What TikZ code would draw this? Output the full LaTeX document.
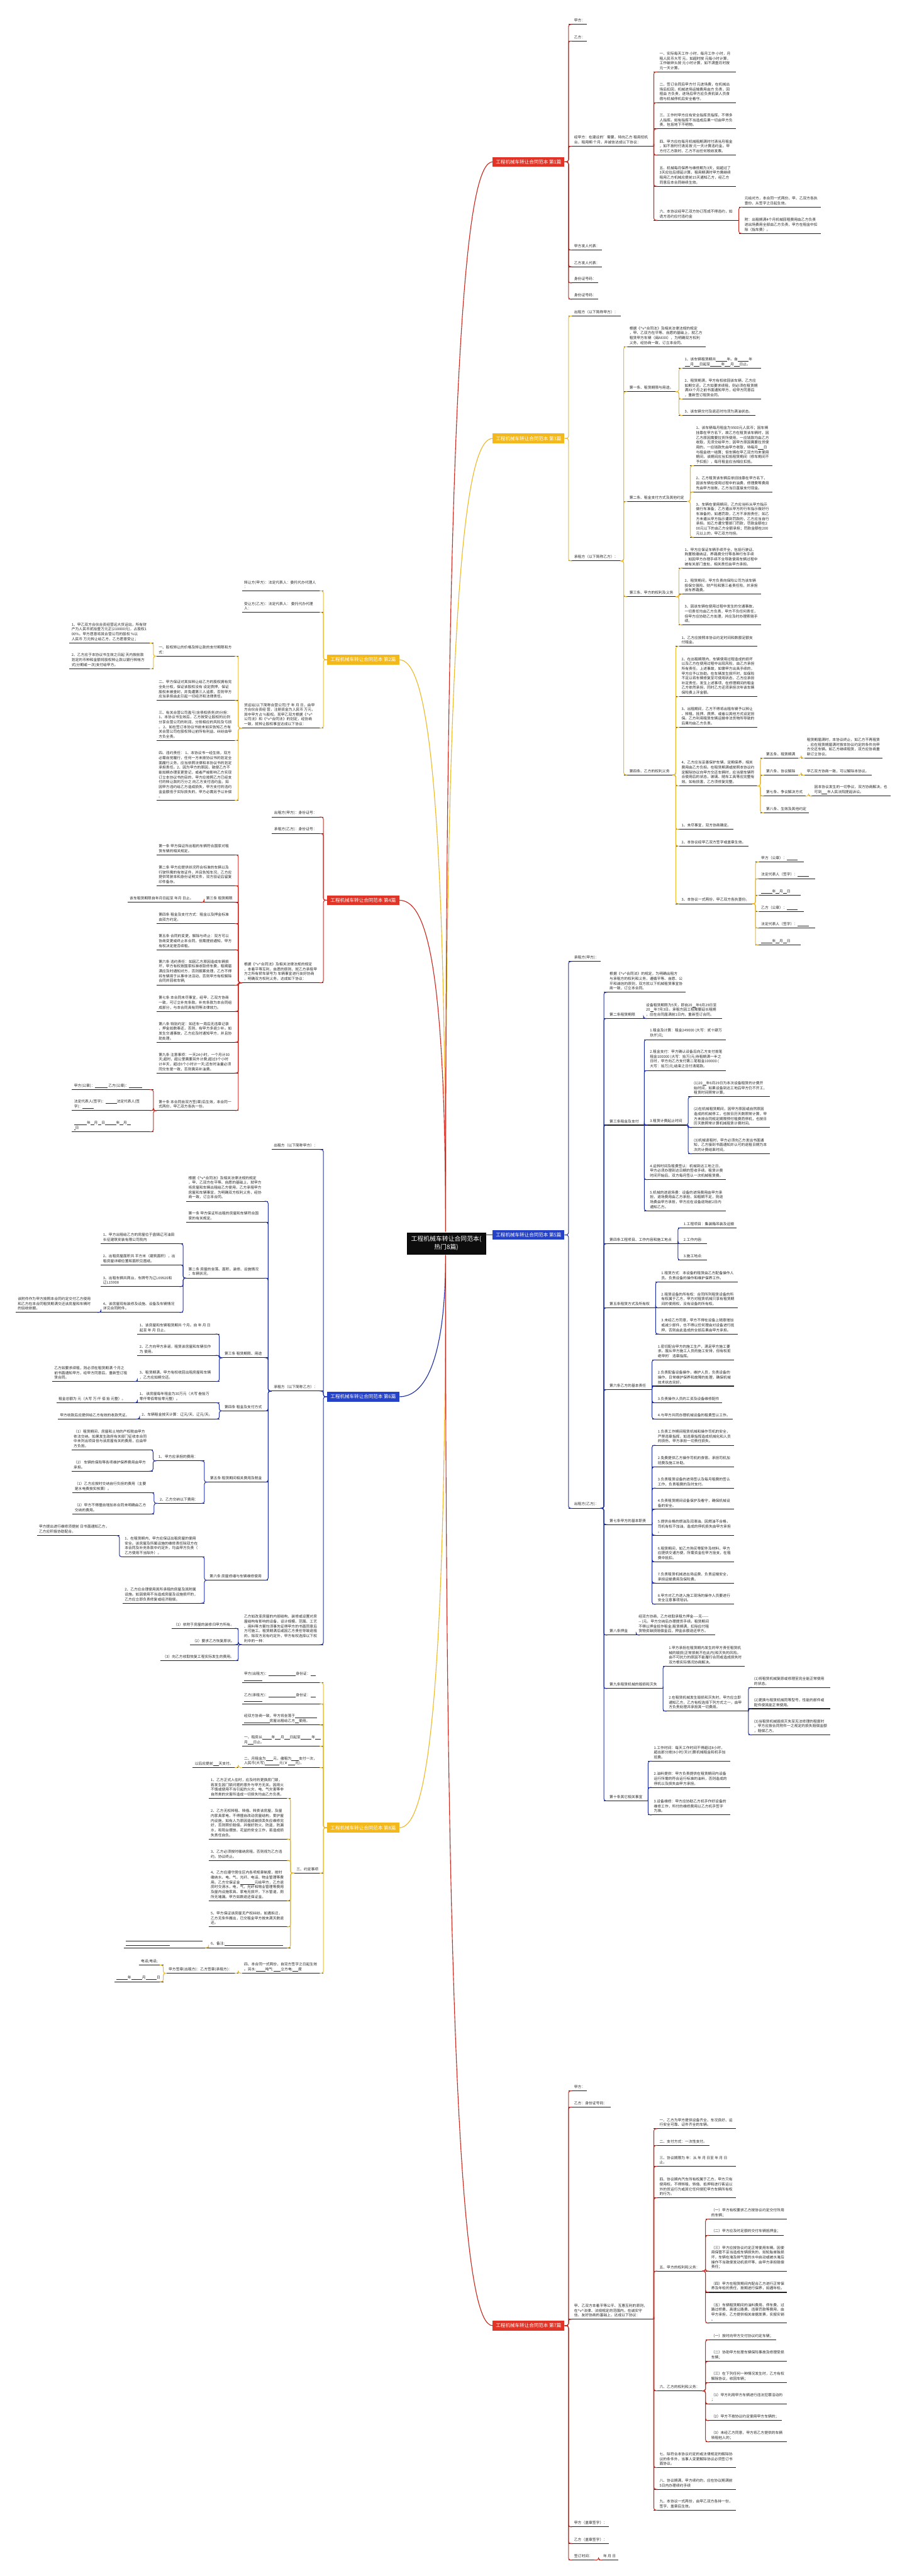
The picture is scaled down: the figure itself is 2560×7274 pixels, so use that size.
\documentclass[tikz,border=0pt]{standalone}
\usepackage{fontspec}
\setmainfont{Noto Sans CJK SC}
\definecolor{redF}{RGB}{226,52,38}
\definecolor{yelF}{RGB}{243,184,27}
\definecolor{bluF}{RGB}{38,66,198}
\definecolor{redL}{RGB}{200,40,30}
\definecolor{yelL}{RGB}{236,185,42}
\definecolor{bluL}{RGB}{30,48,165}
\newcommand\bk[1]{\rule[-1.5pt]{#1em}{0.5pt}}
\newcommand\vv{\textasciicircum v\textasciicircum}
\tikzset{
  tx/.style={anchor=south west, inner sep=0pt, align=left, font=\fontsize{10.3}{13.6}\selectfont, text=black!85},
  ul/.style={line width=1.8pt, draw=black!88},
  cr/.style={line width=1.8pt, draw=redL, rounded corners=6pt},
  cy/.style={line width=1.8pt, draw=yelL, rounded corners=6pt},
  cb/.style={line width=1.8pt, draw=bluL, rounded corners=6pt},
  lab/.style={inner xsep=9pt, inner ysep=7.5pt, text=white, font=\fontsize{13.4}{15}\selectfont},
  cen/.style={fill=black!95, draw=black, text=white, inner xsep=12pt, inner ysep=9pt, align=center, font=\fontsize{17.5}{23}\selectfont},
  mr/.style={line width=2pt, draw=redL},
  my/.style={line width=2pt, draw=yelL},
  mb/.style={line width=2pt, draw=bluL}
}
\newcommand\nodX[6]{\coordinate (#1-l) at (#2,#4);\coordinate (#1-r) at (#3,#4);\node[tx] (#1) at (#5,#4-6) {#6};\draw[ul] (#1-l) -- (#1-r);}
\newcommand\nodR[5]{\nodX{#1}{#2}{#3}{#4}{#2+16}{#5}}
\newcommand\nodL[5]{\nodX{#1}{#2}{#3}{#4}{#2+6}{#5}}
\newcommand\conR[3]{\draw[#1] (#2-r) -| (#3-l) -- ([xshift=10pt]#3-l);}
\newcommand\conL[3]{\draw[#1] (#2-l) -| (#3-r) -- ([xshift=-10pt]#3-r);}
\newcommand\labR[3]{\draw[#1] (#2.east) -| (#3-l) -- ([xshift=10pt]#3-l);}
\newcommand\labL[3]{\draw[#1] (#2.west) -| (#3-r) -- ([xshift=-10pt]#3-r);}
\begin{document}
\begin{tikzpicture}[x=1pt,y=-1pt]
\fill[white] (0,0) rectangle (2560,7274);
\path[use as bounding box] (0,0) rectangle (2560,7274);

% ---------- branch labels ----------
\node[lab,fill=redF,anchor=east] (L1) at (1594,457) {工程机械车转让合同范本 第1篇};
\node[lab,fill=yelF,anchor=east] (L2) at (1594,1238) {工程机械车转让合同范本 第3篇};
\node[lab,fill=bluF,anchor=east] (L3) at (1594,3487) {工程机械车转让合同范本 第5篇};
\node[lab,fill=redF,anchor=east] (L4) at (1594,6567) {工程机械车转让合同范本 第7篇};
\node[lab,fill=yelF,anchor=west] (L5) at (924,5161) {工程机械车转让合同范本 第8篇};
\node[lab,fill=bluF,anchor=west] (L6) at (924,3944) {工程机械车转让合同范本 第6篇};
\node[lab,fill=redF,anchor=west] (L7) at (924,2542) {工程机械车转让合同范本 第4篇};
\node[lab,fill=yelF,anchor=west] (L8) at (924,1863) {工程机械车转让合同范本 第2篇};

% ---------- centre ----------
\coordinate (T) at (1258,3478);
\coordinate (B) at (1258,3544);
\draw[my] (T) .. controls (1258,2138) and (1199,1863) .. (L8.east);
\draw[mr] (T) .. controls (1258,2700) and (1200,2542) .. (L7.east);
\draw[my] (T) .. controls (1258,1619) and (1318,1238) .. (L2.west);
\draw[mr] (T) .. controls (1258,971) and (1318,457) .. (L1.west);
\draw[mb] (B) .. controls (1258,3844) and (1199,3944) .. (L6.east);
\draw[my] (B) .. controls (1258,4886) and (1199,5161) .. (L5.east);
\draw[mr] (B) .. controls (1258,6053) and (1318,6567) .. (L4.west);
\node[cen] (C) at (1260,3511) {工程机械车转让合同范本(\\热门8篇)};
\draw[mb] (C.north east |- L3.west) -- (L3.west);

% ---------- 第1篇 (red, right top) ----------
\nodR{a1}{1605}{1656}{69}{甲方：}
\nodR{a2}{1605}{1656}{116}{乙方：}
\nodR{a3}{1605}{1846}{413}{经甲方：在建设的'需要，特向乙方 租用挖机\\台，租用期 个月，并诚信达成以下协议：}
\nodR{a31}{1846}{2077}{203}{一、实际每天工作 小时，每月工作 小时，月\\租人民币大写 元。如超时按 元每小时计算，\\工作破碎头按 元小时计算，如不满壹月时按\\元一天计算。}
\nodR{a32}{1846}{2077}{290}{二、签订合同后甲方付 元进场费，在机械出\\场后扣回，机械进场运输费用由方 负责，回\\程由 方负责，进场后甲方应负责机架人员食\\宿与机械停机后安全看守。}
\nodR{a33}{1846}{2077}{364}{三、工作时甲方应有安全指挥员指挥，不得多\\人指挥。如有指挥不当造成后果一切由甲方负\\责，包括地下不明物。}
\nodR{a34}{1846}{2077}{438}{四、甲方应在每月机械租期满时付清当月租金\\，如不按时付清另按 元一天计算违约金。甲\\方付乙方款时，乙方不出任何税收发票。}
\nodR{a35}{1846}{2077}{526}{五、机械每月保养与维修期为3天，如超过了\\3天应往后顺延计算，租用期满时甲方需继续\\租用乙方机械应提前15天通知乙方，经乙方\\同意后本合同继续生效。}
\nodR{a36}{1846}{2086}{622}{六、本协议经甲乙双方协订而成不得违约，如\\诡方违约应付违约金}
\nodR{a361}{2086}{2317}{585}{元给对方，本合同一式两份，甲、乙双方各执\\壹份，从签字之日起生效。}
\nodR{a362}{2086}{2317}{659}{附：出租期满4个月机械回程费用由乙方负责\\进出场费用全部由乙方负责，甲方在租金中扣\\除（指车费）。}
\nodR{a4}{1605}{1699}{706}{甲方发人代表：}
\nodR{a5}{1605}{1699}{753}{乙方发人代表：}
\nodR{a6}{1605}{1688}{799}{身份证号码：}
\nodR{a7}{1605}{1688}{845}{身份证号码：}
\foreach \c in {a1,a2,a3,a4,a5,a6,a7}{\labR{cr}{L1}{\c}}
\foreach \c in {a31,a32,a33,a34,a35,a36}{\conR{cr}{a3}{\c}}
\foreach \c in {a361,a362}{\conR{cr}{a36}{\c}}

% ---------- 第3篇 (yellow, right) ----------
\nodR{b1}{1605}{1752}{892}{出租方（以下简称甲方）：}
\nodR{b2}{1605}{1752}{1584}{承租方（以下简称乙方）：}
\nodR{b21}{1761}{1992}{979}{根据《\vv 合同法》及相关法律法规的规定\\，甲、乙双方在平等、自愿的基础上，就乙方\\租赁甲方车辆（闽AXXX），为明确双方权利\\义务，经协商一致，订立本合同。}
\nodR{b22}{1761}{1908}{1106}{第一条、租赁期限与用途。}
\nodR{b221}{1917}{2149}{1040}{1、该车辆租赁期共\bk{3}年。自\bk{3}年\\\bk{1.5}月\bk{1.5}日起至\bk{3}年\bk{1.5}月\bk{1.5}日止。}
\nodR{b222}{1917}{2149}{1127}{2、租赁期满，甲方有权收回该车辆，乙方应\\如期交还。乙方如要求续租，则必须在租赁期\\满XX个月之前书面通知甲方，经甲方同意后\\，重新签订租赁合同。}
\nodR{b223}{1917}{2133}{1173}{3、该车辆交付及退还时均须为满油状态。}
\nodR{b23}{1761}{1940}{1416}{第二条、租金支付方式及其他约定}
\nodR{b231}{1949}{2180}{1315}{1、该车辆每月租金为9500元人民币；因车辆\\挂靠在甲方名下，故乙方在租赁该车辆时，因\\乙方原因需要拉货所使用，一应钱款均由乙方\\收取，无须交给甲方；因甲方原因需要拉货使\\用的，一应钱款先由甲方收取，待每月\bk{1.5}日\\与租金统一结算；但车辆在甲乙双方均未使用\\期间，该期间应当扣抵租赁期间（修车期间不\\予扣抵），每月租金应当相应扣抵。}
\nodR{b232}{1949}{2180}{1389}{2、乙方租赁该车辆后依旧挂靠在甲方名下，\\因该车辆在使用过程中的油费、修理费等费用\\先由甲方挂账，乙方当日直接支付现金。}
\nodR{b233}{1949}{2180}{1517}{3、车辆在使用期间，乙方应当听从甲方指示\\做行车准备；乙方遵从甲方的行车指示做好行\\车准备的，如遇罚款，乙方不承担责任；如乙\\方未遵从甲方指示遭到罚款的，乙方应当自行\\承担。如乙方遭交警部门罚款，罚款金额在2\\00元以下的由乙方全额承担；罚款金额在200\\元以上的，甲乙双方均担。}
\nodR{b24}{1761}{1908}{1685}{第三条、甲方的权利及义务}
\nodR{b241}{1917}{2149}{1604}{1、甲方应保证车辆手续齐全，包括行驶证、\\购置税缴纳证、养路费交付等各种行车手续\\；如因甲方办理手续不全导致使用车辆过程中\\被有关部门查处，相关责任由甲方承担。}
\nodR{b242}{1917}{2149}{1678}{2、租赁期间，甲方负责向保险公司为该车辆\\投保交强险、财产险和第三者责任险，并承担\\该车养路费。}
\nodR{b243}{1917}{2149}{1765}{3、因该车辆在使用过程中发生的交通事故，\\一切责任均由乙方负责，甲方不负任何责任，\\但甲方应协助乙方处理，并应及时办理索赔手\\续。}
\nodR{b25}{1761}{1899}{2188}{第四条、乙方的权利义务}
\nodR{b251}{1908}{2138}{1825}{1、乙方应按照本协议约定时间和数额足额支\\付租金。}
\nodR{b252}{1908}{2138}{1967}{2、在出租期限内，车辆使用过程造成的损坏\\以及乙方在使用过程中出现风险，由乙方承担\\所有责任。上述事故，如需甲方出具手续的，\\甲方应予以协助。在车辆发生损坏时，如保险\\不足以将车辆修复至可使用状态，乙方应承担\\补足责任。发生上述事项，在修理期间的租金\\乙方依然承担，同时乙方还须承担次年该车辆\\保险费上浮金额。}
\nodR{b253}{1908}{2138}{2054}{3、出租期间，乙方不得将出租车辆予以转让\\、转租、抵押、质押、或者以其他方式设定担\\保。乙方利用租赁车辆运输非法货物所导致的\\后果均由乙方负责。}
\nodR{b254}{1908}{2138}{2219}{4、乙方应当妥善保护车辆，定期保养，相关\\费用由乙方负担。在租赁期满或按照本协议约\\定解除协议向甲方交还车辆时，应当使车辆符\\合使用后的状态，玻璃、随车工具等应完整有\\效。如有损害，乙方须修复完整。}
\nodR{b2541}{2147}{2254}{2141}{第五条、租赁期满}
\nodR{b25411}{2262}{2492}{2141}{租赁期届满时，本协议终止，如乙方不再租赁\\，应在租赁期届满时按本协议约定的条件向甲\\方交还车辆。如乙方继续租赁，双方应协商重\\新订立协议。}
\nodR{b2542}{2147}{2254}{2189}{第六条、协议解除}
\nodR{b25421}{2262}{2461}{2189}{甲乙双方协商一致，可以解除本协议。}
\nodR{b2543}{2147}{2274}{2248}{第七条、争议解决方式}
\nodR{b25431}{2283}{2514}{2248}{因本协议发生的一切争议，双方协商解决，也\\可到\bk{1.5}市人民法院提起诉讼。}
\nodR{b2544}{2147}{2284}{2295}{第八条、生效及其他约定}
\nodR{b255}{1908}{2071}{2342}{1、未尽事宜，双方协商确定。}
\nodR{b256}{1908}{2113}{2389}{2、本协议经甲乙双方签字或盖章生效。}
\nodR{b257}{1908}{2124}{2552}{3、本协议一式两份，甲乙双方各执壹份。}
\nodR{b2571}{2133}{2269}{2434}{甲方（公章）：\bk{3}}
\nodR{b2572}{2133}{2302}{2481}{法定代表人（签字）：\bk{3}}
\nodR{b2573}{2133}{2261}{2528}{\bk{3}年\bk{1}月\bk{1}日}
\nodR{b2574}{2133}{2269}{2574}{乙方（公章）：\bk{3}}
\nodR{b2575}{2133}{2302}{2621}{法定代表人（签字）：\bk{3}}
\nodR{b2576}{2133}{2261}{2669}{\bk{3}年\bk{1}月\bk{1}日}
\foreach \c in {b1,b2}{\labR{cy}{L2}{\c}}
\foreach \c in {b21,b22,b23,b24,b25}{\conR{cy}{b2}{\c}}
\foreach \c in {b221,b222,b223}{\conR{cy}{b22}{\c}}
\foreach \c in {b231,b232,b233}{\conR{cy}{b23}{\c}}
\foreach \c in {b241,b242,b243}{\conR{cy}{b24}{\c}}
\foreach \c in {b251,b252,b253,b254,b255,b256,b257}{\conR{cy}{b25}{\c}}
\foreach \c in {b2541,b2542,b2543,b2544}{\conR{cy}{b254}{\c}}
\conR{cy}{b2541}{b25411}
\conR{cy}{b2542}{b25421}
\conR{cy}{b2543}{b25431}
\foreach \c in {b2571,b2572,b2573,b2574,b2575,b2576}{\conR{cy}{b257}{\c}}

% ---------- 第5篇 (blue, right) ----------
\nodR{f1}{1605}{1696}{2715}{承租方(甲方)：}
\nodR{f2}{1605}{1700}{4259}{出租方(乙方)：}
\nodR{f21}{1705}{1936}{2802}{根据《\vv 合同法》的规定，为明确出租方\\与承租方的权利和义务，遵循平等、自愿、公\\平和诚信的原则，双方就以下机械租赁事宜协\\商一致，订立本合同。}
\nodR{f22}{1705}{1817}{2876}{第二条租赁期限}
\nodX{f221}{1817}{2039}{2876}{1824}{设备租赁期限为5天，即自20\bk{1}年6月29日至\\20\bk{1}年7月3日。承租方因工程需要延长租期\\，应在合同届满前1日内，重新签订合同。}
\nodR{f23}{1705}{1819}{3177}{第三条租金及支付}
\nodR{f231}{1819}{2050}{2936}{1.租金及计算：租金249000 (大写：贰十肆万\\玖仟)元;}
\nodR{f232}{1819}{2050}{3023}{2.租金支付：甲方确认设备后向乙方支付首笔\\租金100000 (大写：拾万)元;待租期满一半之\\日时，甲方向乙方支付第二笔租金100000 (\\大写：拾万)元;结束之日付清尾款。}
\nodR{f233}{1819}{1937}{3177}{3.租赁计费起止时间}
\nodR{f2331}{1943}{2173}{3097}{(1)20\bk{1}年6月29日为本次设备租赁的计费开\\始时间，如果设备到达工地后甲方仍不开工，\\租赁时间照常计算。}
\nodR{f2332}{1943}{2173}{3184}{(2)在机械租赁期间，因甲方原因或自然原因\\造成的机械停工，也按日历天数照常计算，甲\\方未按合同规定期限预付租费而停机，也按日\\历天数照常计算机械租赁计费时间。}
\nodR{f2333}{1943}{2173}{3258}{(3)机械退租时，甲方必须向乙方发出书面通\\知，乙方接到书面通知并认可的退租日期为本\\次的计费结束时间。}
\nodR{f234}{1819}{2050}{3331}{4.运转时间及租费签认：机械到达工地之日，\\甲方必须办理到达日期的签收手续。租赁计费\\时间开始后，双方每月签认一次机械租赁费。}
\nodR{f235}{1819}{2050}{3419}{5.机械的进退场费：设备的进场费用由甲方承\\担，退场费用由乙方承担，如租期不足，则退\\场费由甲方承担，甲方应在设备退场前2日内\\通知乙方。}
\nodR{f24}{1705}{1914}{3512}{第四条工程项目、工作内容和施工地点}
\nodR{f241}{1914}{2080}{3467}{1.工程项目：集装箱吊装及运输}
\nodR{f242}{1914}{1996}{3512}{2.工作内容:}
\nodR{f243}{1914}{1996}{3558}{3.施工地点:}
\nodR{f25}{1705}{1851}{3693}{第五条租赁方式及所有权}
\nodR{f251}{1851}{2083}{3620}{1.租赁方式：本设备的租赁由乙方配备操作人\\员。负责设备的操作和维护保养工作。}
\nodR{f252}{1851}{2083}{3693}{2.租赁设备的所有权：合同所列租赁设备的所\\有权属于乙方，甲方对租赁机械只享有租赁期\\间的使用权，没有设备的所有权。}
\nodR{f253}{1851}{2083}{3767}{3.未经乙方同意，甲方不得在设备上随意增加\\或减少部件，也不得以任何理由对设备进行抵\\押，否则由此造成的全部后果由甲方承担。}
\nodR{f26}{1705}{1841}{3924}{第六条乙方的基本责任}
\nodR{f261}{1841}{2072}{3840}{1.密切配合甲方的施工生产，满足甲方施工要\\求。服从甲方施工人员的施工安排，但有权拒\\绝甲的'违章指挥。}
\nodR{f262}{1841}{2072}{3914}{2.负责配备设备操作，维护人员，负责设备的\\操作，日常维护保养和故障的处理，确保机械\\技术状态完好。}
\nodR{f263}{1841}{2038}{3961}{3.负责操作人员的工资及设备维修配件}
\nodR{f264}{1841}{2069}{4007}{4.与甲方共同办理机械设备的租费签认工作。}
\nodR{f27}{1705}{1841}{4305}{第七条甲方的基本职责}
\nodR{f271}{1841}{2072}{4081}{1.负责工作期间租赁机械和操作司机的安全，\\严禁违章指挥，如违章指挥造成机械化和人员\\的损伤，甲方承担一切责任损失。}
\nodR{f272}{1841}{2072}{4142}{2.免费提供乙方操作司机的食宿。承担司机加\\班费及施工补助。}
\nodR{f273}{1841}{2072}{4202}{3.负责租赁设备的进场签认及每月租费的签认\\工作，负责租费的及时支付。}
\nodR{f274}{1841}{2072}{4262}{4.负责租赁期间设备保护及看守，确保机械设\\备的安全。}
\nodR{f275}{1841}{2072}{4335}{5.提供合格的燃油及润滑油。因燃油不合格，\\司机有权不加油，造成的停机损失由甲方承担\\。}
\nodR{f276}{1841}{2072}{4410}{6.租赁期间，如乙方购买零配件及材料，甲方\\应提供交通方便，所需资金在甲方挂支，在租\\费中抵扣。}
\nodR{f277}{1841}{2072}{4470}{7.负责租赁机械进出场运费，负责运输安全，\\承担运输费用及保险费。}
\nodR{f278}{1841}{2072}{4530}{8.甲方对乙方进入施工现场的操作人员要进行\\安全注意事项培训。}
\nodR{f28}{1705}{1796}{4617}{第八条押金}
\nodX{f281}{1796}{2019}{4617}{1803}{经双方协商，乙方收取承租方押金-{}-{}-{}-无-{}-{}-{}-{}-\\-{}- )元。甲方交纳后办理提货手续。租赁期间\\不得以押金抵作租金;租赁期满，扣除应付租\\赁物资缺损赔偿金后，押金余额退还甲方。}
\nodR{f29}{1705}{1872}{4768}{第九条租赁机械的毁损和灭失}
\nodR{f291}{1872}{2103}{4705}{1.甲方承担在租赁期内发生的甲方责任租赁机\\械的毁损(正常损耗不在此内)和灭失的风险。\\由不可抗力的原因不能履行合同或造成损失时\\双方根实际情况协商解决。}
\nodR{f292}{1872}{2113}{4832}{2.在租赁机械发生毁损和灭失时，甲方应立即\\通知乙方，乙方有权选择下列方式之一，由甲\\方负责处理并承担其一切费用。}
\nodR{f2921}{2113}{2344}{4765}{(1)将租赁机械复原或修理至完全能正常使用\\的状态。}
\nodR{f2922}{2113}{2344}{4825}{(2)更换与租赁机械同等型号，性能的部件或\\配件使其能正常使用。}
\nodR{f2923}{2113}{2344}{4899}{(3)当租赁机械毁损灭失至无法修理的程度时\\，甲方应按合同附件一之规定的损失赔偿金额\\，赔偿乙方。}
\nodR{f2A}{1705}{1830}{5085}{第十条其它相关事宜}
\nodR{f2A1}{1830}{2061}{4973}{1.工作时间：每天工作时间不得超过8小时，\\超出部分按(8小时/天计)算机械租金和机手加\\班费。}
\nodR{f2A2}{1830}{2061}{5047}{2.油料提供：甲方负责提供在租赁期间内设备\\运行所需的符合运行标准的油料，否则造成的\\停机以及损失由甲方承担。}
\nodR{f2A3}{1830}{2061}{5125}{3.设备维修：甲方应协助乙方机手作好设备的\\维修工作，所付的维修费用以乙方机手签字\\为准。}
\foreach \c in {f1,f2}{\labR{cb}{L3}{\c}}
\foreach \c in {f21,f22,f23,f24,f25,f26,f27,f28,f29,f2A}{\conR{cb}{f2}{\c}}
\conR{cb}{f22}{f221}
\foreach \c in {f231,f232,f233,f234,f235}{\conR{cb}{f23}{\c}}
\foreach \c in {f2331,f2332,f2333}{\conR{cb}{f233}{\c}}
\foreach \c in {f241,f242,f243}{\conR{cb}{f24}{\c}}
\foreach \c in {f251,f252,f253}{\conR{cb}{f25}{\c}}
\foreach \c in {f261,f262,f263,f264}{\conR{cb}{f26}{\c}}
\foreach \c in {f271,f272,f273,f274,f275,f276,f277,f278}{\conR{cb}{f27}{\c}}
\conR{cb}{f28}{f281}
\foreach \c in {f291,f292}{\conR{cb}{f29}{\c}}
\foreach \c in {f2921,f2922,f2923}{\conR{cb}{f292}{\c}}
\foreach \c in {f2A1,f2A2,f2A3}{\conR{cb}{f2A}{\c}}

% ---------- 第7篇 (red, right bottom) ----------
\nodR{h1}{1605}{1656}{5904}{甲方：}
\nodR{h2}{1605}{1724}{5950}{乙方：身份证号码：}
\nodR{h3}{1605}{1846}{6549}{甲、乙双方本着平等公平、互惠互利的原则，\\在\vv 法律、法规规定的范围内，在诚实守\\信、友好协商的基础上，达成以下协议：}
\nodR{h31}{1846}{2077}{6011}{一、乙方为甲方提供设备齐全、车况良好、运\\行安全可靠、证件齐全的车辆。}
\nodR{h32}{1846}{2003}{6058}{二、支付方式：一次性支付。}
\nodR{h33}{1846}{2077}{6117}{三、协议期限为 年：从 年 月 日至 年 月 日\\止。}
\nodR{h34}{1846}{2077}{6206}{四、协议期内汽车所有权属于乙方，甲方只有\\使用权。不得转租、转借、抵押和进行客运以\\外的货运行为或其它任何侵犯甲方车辆所有权\\的行为。}
\nodR{h35}{1846}{1983}{6413}{五、甲方的权利和义务：}
\nodR{h351}{1992}{2222}{6266}{（一）甲方有权要求乙方按协议约定交付所用\\的车辆；}
\nodR{h352}{1992}{2212}{6312}{（二）甲方应及时足额的交付车辆抵押金；}
\nodR{h353}{1992}{2222}{6413}{（三）甲方应按协议约定正常使用车辆。因使\\用保管不妥当造成车辆损失的，如轮胎单独损\\坏，车辆在淹及排气管的水中启动或被水淹后\\操作不当致使发动机损坏等，由甲方承担赔偿\\责任；}
\nodR{h354}{1992}{2222}{6473}{（四）甲方在租赁期间内配合乙方进行正常保\\养及年检的责任，按期进行保养，如遇年检。}
\nodR{h355}{1992}{2222}{6560}{（五）车辆租赁期间的油料费用、停车费、过\\路过桥费、高速公路费、违章罚款等费用，由\\甲方承担，乙方提供相关单据发票，实报实销\\。}
\nodR{h36}{1846}{1983}{6751}{六、乙方的权利和义务：}
\nodR{h361}{1992}{2191}{6607}{（一）按时向甲方交付协议约定车辆；}
\nodR{h362}{1992}{2222}{6668}{（二）协助甲方处理车辆保险事故及修理受损\\车辆；}
\nodR{h363}{1992}{2222}{6728}{（三）在下列任何一种情况发生时，乙方有权\\解除协议，收回车辆；}
\nodR{h364}{1992}{2222}{6788}{（1）甲方利用甲方车辆进行违法犯罪活动的\\；}
\nodR{h365}{1992}{2208}{6835}{（2）甲方不按协议约定使用甲方车辆的；}
\nodR{h366}{1992}{2222}{6895}{（3）未经乙方同意，甲方将乙方提供的车辆\\转租他人的；}
\nodR{h37}{1846}{2077}{6968}{七、除符合本协议约定的或法律规定的解除协\\议的条件外，当事人变更解除协议必须签订书\\面协议。}
\nodR{h38}{1846}{2077}{7029}{八、协议期满，甲方续约的，应在协议期满前\\5日内办理续约手续}
\nodR{h39}{1846}{2077}{7088}{九、本协议一式两份，由甲乙双方各持一份，\\签字、盖章后生效。}
\nodR{h4}{1605}{1719}{7135}{甲方（盖章签字）：}
\nodR{h5}{1605}{1719}{7182}{乙方（盖章签字）：}
\nodR{h6}{1605}{1678}{7229}{签订时间：}
\nodX{h61}{1690}{1746}{7229}{1703}{年 月 日}
\foreach \c in {h1,h2,h3,h4,h5,h6}{\labR{cr}{L4}{\c}}
\foreach \c in {h31,h32,h33,h34,h35,h36,h37,h38,h39}{\conR{cr}{h3}{\c}}
\foreach \c in {h351,h352,h353,h354,h355}{\conR{cr}{h35}{\c}}
\foreach \c in {h361,h362,h363,h364,h365,h366}{\conR{cr}{h36}{\c}}
\conR{cr}{h6}{h61}

% ---------- 第2篇 (yellow, left top) ----------
\nodL{c1}{683}{913}{1668}{转让方(甲方)：法定代表人：委托代办代理人\\：}
\nodL{c2}{683}{913}{1729}{受让方(乙方)：法定代表人： 委托代办代理\\人：}
\nodL{c3}{683}{913}{2056}{货运站(以下简称合营公司)于 年 月 日，由甲\\方合伙合资经 营，注册资金为人民币 万元，\\其中甲方占 \%股权。现甲乙双方根据《\vv\\公司法》和《\vv 合同法》的划定，经协商\\一致，就转让股权事宜达成以下协议：}
\nodL{c31}{442}{673}{1853}{一、股权转让的价格及转让款的支付期限和方\\式：}
\nodL{c311}{196}{433}{1816}{1、甲乙双方合伙合资经营远大货运站，所有财\\产为人民币贰拾壹万元正(210000元)，占股权1\\00\%。甲方愿意将其合营公司的股权 \%以\\人民币 万元转让给乙方，乙方愿意受让；}
\nodL{c312}{196}{433}{1889}{2、乙方应于本协议书生效之日起 天内按前款\\划定的币种和金额将股权转让款以银行转帐方\\式(分期或一次)支付给甲方。}
\nodL{c32}{442}{673}{1978}{二、甲方保证对其拟转让给乙方的股权拥有完\\全处分权，保证该股权没有 设定质押，保证\\股权未被查封，并免遭第三人追索，否则甲方\\应当承担由此引起一切经济和法律责任。}
\nodL{c33}{442}{673}{2091}{三、有关合营公司盈亏(含债权债务)的分担：\\1、本协议书生效后，乙方按受让股权的比例\\分享合营公司的利润，分担相应的风险及亏损\\。 2、如在签订本协议书前未如实告知乙方有\\关合营公司在股权转让前所有利益、纠纷由甲\\方负全责。}
\nodL{c34}{442}{673}{2260}{四、违约责任： 1、本协议书一经生效，双方\\必需自觉履行，任何一方未按协议书的划定全\\面履行义务，应当依照法律和本协议书的划定\\承担责任。2、因为甲方的原因，致使乙方不\\能如期办理变更登记，或者严峻影响乙方实现\\订立本协议书的目的，甲方应按照乙方已经支\\付的转让款的万分之 向乙方支付违约金。如\\因甲方违约给乙方造成损失，甲方支付的违约\\金金额低于实际损失的，甲方必需另予以补偿\\。}
\foreach \c in {c1,c2,c3}{\labL{cy}{L8}{\c}}
\foreach \c in {c31,c32,c33,c34}{\conL{cy}{c3}{\c}}
\foreach \c in {c311,c312}{\conL{cy}{c31}{\c}}

% ---------- 第4篇 (red, left) ----------
\nodL{d1}{768}{913}{2307}{出租方(甲方)：身份证号：}
\nodL{d2}{768}{913}{2354}{承租方(乙方)：身份证号：}
\nodL{d3}{683}{913}{2775}{根据《\vv 合同法》及相关法律法规的规定\\，本着平等互利，自愿的原则，就乙方承租甲\\方之所有轿车架号为 车辆事宜进行友好协商\\，明确双方权利义务，达成如下协议：}
\nodL{d31}{442}{673}{2414}{第一条 甲方保证所出租的车辆符合国家对租\\赁车辆的相关规定。}
\nodL{d32}{442}{673}{2501}{第二条 甲方应提供状况符合标准的车辆以及\\行驶所需的有效证件，并且告知车况，乙方应\\提供驾驶本和身份证明文件，双方验证后留复\\印件备存。}
\nodL{d33}{576}{673}{2548}{第三条 租赁期限}
\nodL{d331}{360}{576}{2548}{该车租赁期限自年月日起至 年月 日止。}
\nodL{d34}{442}{673}{2608}{第四条 租金及支付方式：租金以及押金标准\\由双方约定。}
\nodL{d35}{442}{673}{2682}{第五条 合同的变更，解除与终止：双方可以\\协商变更或终止本合同，但需提前通知，甲方\\有权决定是否续租。}
\nodL{d36}{442}{673}{2782}{第六条 违约责任：如因乙方原因造成车辆损\\坏，甲方有权按国家标准收取修车费，租期届\\满应及时通知对方，否则报案处理，乙方不得\\将车辆用于从事非法活动，否则甲方有权解除\\合同并回收车辆;}
\nodL{d37}{442}{673}{2856}{第七条 本合同未尽事宜，经甲，乙双方协商\\一致，可订立补充条款。补充条款为本合同组\\成部分，与本合同具有同等法律效力。}
\nodL{d38}{442}{673}{2943}{第八条 特别约定：如还车一周后无违章记录\\，押金如数奉还，否则，有甲方多退少补。如\\发生交通事故，乙方应及时通知甲方，并且协\\助处理。}
\nodL{d39}{442}{673}{3030}{第九条 注意事项：一天24小时，一个月计30\\天;超时，超公里需要另外计费;超过3个小时\\计半天，超过6个小时计一天;还车时油量必须\\同交车是一致，否则需另补油费。}
\nodL{d3A}{442}{673}{3136}{第十条 本合同自双方签(章)后生效，本合同一\\式两份，甲乙双方各执一份。}
\nodL{d3A1}{203}{433}{3077}{甲方(公章)：\bk{3.5} 乙方(公章)：\bk{3.5}}
\nodL{d3A2}{203}{433}{3136}{法定代表人(签字)：\bk{3}法定代表人(签\\字)：\bk{3}}
\nodL{d3A3}{203}{433}{3196}{\bk{3.5}年\bk{1}月\bk{1}日\bk{3}年\bk{1}月\bk{1}\\\bk{0.3}日}
\foreach \c in {d1,d2,d3}{\labL{cr}{L7}{\c}}
\foreach \c in {d31,d32,d33,d34,d35,d36,d37,d38,d39,d3A}{\conL{cr}{d3}{\c}}
\conL{cr}{d33}{d331}
\foreach \c in {d3A1,d3A2,d3A3}{\conL{cr}{d3A}{\c}}

% ---------- 第6篇 (blue, left) ----------
\nodL{e0}{767}{913}{3246}{出租方（以下简称甲方）：}
\nodL{e2}{767}{913}{3928}{承租方（以下简称乙方）：}
\nodL{e21}{526}{757}{3392}{根据《\vv 合同法》及相关法律法规的规定\\，甲、乙双方在平等、自愿的基础上，就甲方\\将房屋和车辆出租给乙方使用，乙方承租甲方\\房屋和车辆事宜，为明确双方权利义务，经协\\商一致，订立本合同。}
\nodL{e22}{526}{757}{3451}{第一条 甲方保证所出租的房屋和车辆符合国\\家的有关规定。}
\nodL{e23}{526}{757}{3609}{第二条 房屋的坐落、面积、装修、设施情况\\；车辆状况。}
\nodL{e231}{285}{517}{3512}{1、甲方出租给乙方的房屋位于盘锦辽河油田\\长征建筑安装有限公司院内}
\nodL{e232}{285}{517}{3572}{2、出租房屋面积共 平方米（建筑面积），出\\租房屋详细位置和面积见图纸。}
\nodL{e233}{285}{517}{3633}{3、出租车辆共两台，车牌号为辽L69920和\\辽L15908}
\nodL{e234}{285}{517}{3706}{4、该房屋现有装修及设施、设备及车辆情况\\详见合同附件。}
\nodL{e2341}{44}{285}{3706}{该附件作为甲方按照本合同约定交付乙方使用\\和乙方在本合同租赁期满交还该房屋和车辆时\\的验收依据。}
\nodL{e24}{628}{757}{3834}{第三条 租赁期限、用途}
\nodL{e241}{388}{619}{3767}{1、该房屋和车辆租赁期共 个月。自 年 月 日\\起至 年 月 日止。}
\nodL{e242}{388}{619}{3827}{2、乙方向甲方承诺，租赁该房屋和车辆仅作\\为 使用。}
\nodL{e243}{388}{619}{3901}{3、租赁期满，甲方有权收回出租房屋和车辆\\，乙方应如期交还。}
\nodL{e2431}{147}{388}{3901}{乙方如要求续租，则必须在租赁期满 个月之\\前书面通知甲方，经甲方同意后，重新签订租\\赁合同。}
\nodL{e25}{628}{757}{3984}{第四条 租金及支付方式}
\nodL{e251}{388}{619}{3961}{1、 该房屋每年租金为30万元（大写 叁拾万\\零仟零佰零拾零元整）。}
\nodL{e2511}{159}{388}{3961}{租金总额为 元（大写 万 仟 佰 拾 元整）。}
\nodL{e252}{394}{619}{4007}{2、车辆租金按天计算：辽元/天、辽元/天。}
\nodL{e2521}{163}{394}{4007}{甲方收款后应提供给乙方有效的收款凭证。}
\nodL{e26}{587}{757}{4185}{第五条 租赁期间相关费用及税金}
\nodL{e261}{441}{577}{4125}{1、 甲方应承担的费用：}
\nodL{e2611}{202}{432}{4094}{（1）租赁期间，房屋和土地的产权税由甲方\\依法交纳。如果发生政府有关部门征收本合同\\中未列出项目但与该房屋有关的费用，应由甲\\方负担。}
\nodL{e2612}{202}{432}{4154}{（2） 车辆的保险等各项维护保养费用由甲方\\承担。}
\nodL{e262}{445}{577}{4245}{2、乙方交纳以下费用：}
\nodL{e2621}{205}{435}{4215}{（1）乙方应按时交纳自行负担的费用（主要\\是水电费按实核算）。}
\nodL{e2622}{205}{435}{4275}{（2）甲方不得擅自增加本合同未明确由乙方\\交纳的费用。}
\nodL{e27}{586}{757}{4462}{第六条 房屋修缮与车辆维修使用}
\nodL{e271}{346}{577}{4396}{1、在租赁期内，甲方应保证出租房屋的使用\\安全。该房屋及所属设施的维修责任除双方在\\本合同及补充条款中约定外，均由甲方负责（\\乙方使用不当除外）。}
\nodL{e2711}{104}{337}{4336}{甲方提出进行维修须提前 日书面通知乙方，\\乙方应积极协助配合。}
\nodL{e272}{346}{577}{4527}{2、乙方应合理使用其所承租的房屋及其附属\\设施。如因使用不当造成房屋及设施损坏的，\\乙方应立即负责修复或经济赔偿。}
\nodL{e3}{683}{913}{4644}{乙方如改变房屋的内部结构、装修或设置对房\\屋结构有影响的设备，设计规模、范围、工艺\\、用料等方案均须事先征得甲方的书面同意后\\方可施工。租赁期满后或因乙方责任导致退租\\的，除双方另有约定外，甲方有权选择以下权\\利中的一种：}
\nodL{e31}{484}{673}{4598}{（1）依附于房屋的装修归甲方所有。}
\nodL{e32}{537}{673}{4644}{（2）要求乙方恢复原状。}
\nodL{e33}{453}{673}{4689}{（3）向乙方收取恢复工程实际发生的费用。}
\foreach \c in {e0,e2,e3}{\labL{cb}{L6}{\c}}
\foreach \c in {e21,e22,e23,e24,e25,e26,e27}{\conL{cb}{e2}{\c}}
\foreach \c in {e231,e232,e233,e234}{\conL{cb}{e23}{\c}}
\conL{cb}{e234}{e2341}
\foreach \c in {e241,e242,e243}{\conL{cb}{e24}{\c}}
\conL{cb}{e243}{e2431}
\foreach \c in {e251,e252}{\conL{cb}{e25}{\c}}
\conL{cb}{e251}{e2511}
\conL{cb}{e252}{e2521}
\foreach \c in {e261,e262}{\conL{cb}{e26}{\c}}
\foreach \c in {e2611,e2612}{\conL{cb}{e261}{\c}}
\foreach \c in {e2621,e2622}{\conL{cb}{e262}{\c}}
\foreach \c in {e271,e272}{\conL{cb}{e27}{\c}}
\conL{cb}{e271}{e2711}
\foreach \c in {e31,e32,e33}{\conL{cb}{e3}{\c}}

% ---------- 第8篇 (yellow, left bottom) ----------
\nodL{g1}{683}{913}{4751}{甲方(出租方)：\bk{7.5}身份证：\bk{1.5}\\\bk{5}}
\nodL{g2}{683}{913}{4811}{乙方(承租方)：\bk{7.5}身份证：\bk{1.5}\\\bk{5}}
\nodL{g3}{683}{913}{4871}{经双方协商一致，甲方将坐落于\bk{6}\\\bk{7}房屋出租给乙方\bk{1}使用。}
\nodL{g4}{683}{913}{4931}{一、租房从\bk{2.5}年\bk{1.5}月\bk{1.5}日起至\bk{3}年\bk{1.5}\\月\bk{1.5}日止。}
\nodL{g5}{683}{913}{4991}{二、月租金为\bk{2}元，缴租为\bk{2}支付一次，\\人民币(大写)\bk{4}元(￥\bk{2}元)，}
\nodL{g51}{544}{673}{4991}{以后应提前\bk{1.5}天支付。}
\nodL{g6}{831}{913}{5289}{三、约定事项}
\nodL{g61}{589}{820}{5078}{1、乙方正式入住时，应及时的更换房门锁，\\若发生因门锁问题的意外与甲方无关。因用火\\不慎或使用不当引起的火灾、电、气灾害等非\\自然类的灾害所造成一切损失均由乙方负责。}
\nodL{g62}{589}{820}{5193}{2、乙方无权转租、转借、转卖该房屋，及屋\\内家具家电，不得擅自改动房屋结构，爱护屋\\内设施，如有人为原因造成破损丢失应维修完\\好，否则照价赔偿。并做好防火，防盗，防漏\\水，和阳台摆放、花盆的安全工作，若造成损\\失责任自负。}
\nodL{g63}{589}{820}{5253}{3、乙方必须按时缴纳房租，否则视为乙方违\\约。协议终止。}
\nodL{g64}{589}{820}{5367}{4、乙方应遵守居住区内各项规章制度，按时\\缴纳水、电、气、光纤、电话、物业管理等费\\用。乙方交保证金\bk{4}元给甲方，乙方退\\房时交清水，电，气，光纤和物业管理等费用\\及屋内设施家具、家电无损坏，下水管道，厕\\所无堵漏。甲方如数退还保证金。}
\nodL{g65}{589}{820}{5441}{5、甲方保证该房屋无产权纠纷。如遇拆迁，\\乙方无条件搬出，已交租金甲方按未满天数退\\还。}
\nodL{g66}{589}{820}{5500}{6、备注:\bk{16}}
\nodL{g661}{349}{589}{5500}{\bk{21}\\\bk{12}}
\nodL{g7}{683}{913}{5572}{四、本合同一式两份，自双方签字之日起生效\\。另水:\bk{2.5}吨气:\bk{2}立方电:\bk{1.5}度}
\nodL{g71}{470}{673}{5572}{甲方签章(出租方)：乙方签章(承租方)：}
\nodL{g711}{392}{461}{5549}{电话;电话;}
\nodL{g712}{323}{461}{5596}{\bk{3}年\bk{3}月\bk{3}日}
\foreach \c in {g1,g2,g3,g4,g5,g6,g7}{\labL{cy}{L5}{\c}}
\conL{cy}{g5}{g51}
\foreach \c in {g61,g62,g63,g64,g65,g66}{\conL{cy}{g6}{\c}}
\conL{cy}{g66}{g661}
\conL{cy}{g7}{g71}
\foreach \c in {g711,g712}{\conL{cy}{g71}{\c}}
\end{tikzpicture}
\end{document}
